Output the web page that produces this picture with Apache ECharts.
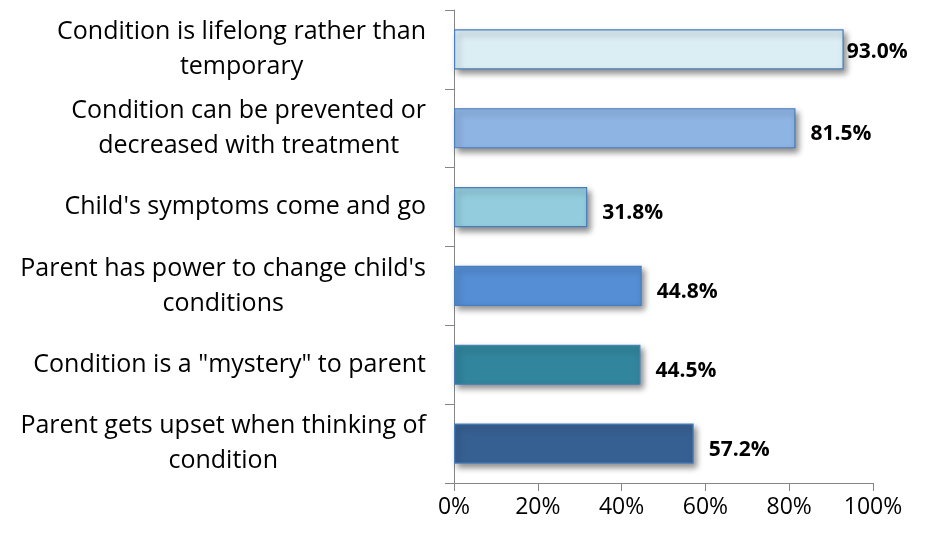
<!DOCTYPE html>
<html><head><meta charset="utf-8">
<script src="https://cdn.jsdelivr.net/npm/echarts@6/dist/echarts.min.js"></script>
<style>html,body{margin:0;padding:0;background:#fff}#c{width:929px;height:535px}</style>
</head><body><div id="c"></div>
<script>
const categories = [
  "Condition is lifelong rather than\ntemporary",
  "Condition can be prevented or\ndecreased with treatment",
  "Child's symptoms come and go",
  "Parent has power to change child's\nconditions",
  "Condition is a \"mystery\" to parent",
  "Parent gets upset when thinking of\ncondition"
];
const values = [93.0, 81.5, 31.8, 44.8, 44.5, 57.2];
const barColors = ["#DBEEF4", "#8EB4E3", "#93CDDD", "#558ED5", "#31859C", "#376092"];
const xTicks = [0, 20, 40, 60, 80, 100];

const FONT = "Open Sans";
const chart = echarts.init(document.getElementById('c'), null, {renderer: 'canvas'});
chart.setOption({
  animation: false,
  grid: {left: 454, right: 56, top: 10, bottom: 52, containLabel: false},
  xAxis: {
    type: 'value', min: xTicks[0], max: xTicks[xTicks.length - 1], interval: 20,
    axisLine: {show: true, lineStyle: {color: '#868686', width: 1}},
    axisTick: {show: true, length: 8, lineStyle: {color: '#868686'}},
    splitLine: {show: false},
    axisLabel: {formatter: v => v + '%', color: '#000', fontFamily: FONT, fontSize: 23, margin: 13}
  },
  yAxis: {
    type: 'category', data: categories, inverse: true,
    axisLine: {show: true, lineStyle: {color: '#868686', width: 1}},
    axisTick: {show: true, length: 9, lineStyle: {color: '#868686'}},
    axisLabel: {
      color: '#000', fontFamily: FONT, fontSize: 25, lineHeight: 35, align: 'right', margin: 28,
      formatter: v => v.split('\n').map(l => '{c|' + l + '}').join('\n'),
      rich: {c: {align: 'center', color: '#000', fontFamily: FONT, fontSize: 25, lineHeight: 35}}
    }
  },
  series: [{
    type: 'bar',
    barCategoryGap: '49%',
    data: values.map((v, i) => ({
      value: v,
      itemStyle: {color: barColors[i]},
      label: {offset: v > 90 ? [1, 3] : [13, 6]}
    })),
    itemStyle: {
      borderColor: '#4A7EBB', borderWidth: 1.2,
      shadowColor: 'rgba(0,0,0,0.45)', shadowBlur: 6, shadowOffsetX: 3, shadowOffsetY: 4
    },
    label: {
      show: true, position: 'right', distance: 2,
      formatter: p => p.value.toFixed(1) + '%',
      color: '#000', fontFamily: FONT, fontWeight: 'bold', fontSize: 21
    }
  }]
});
</script></body></html>
